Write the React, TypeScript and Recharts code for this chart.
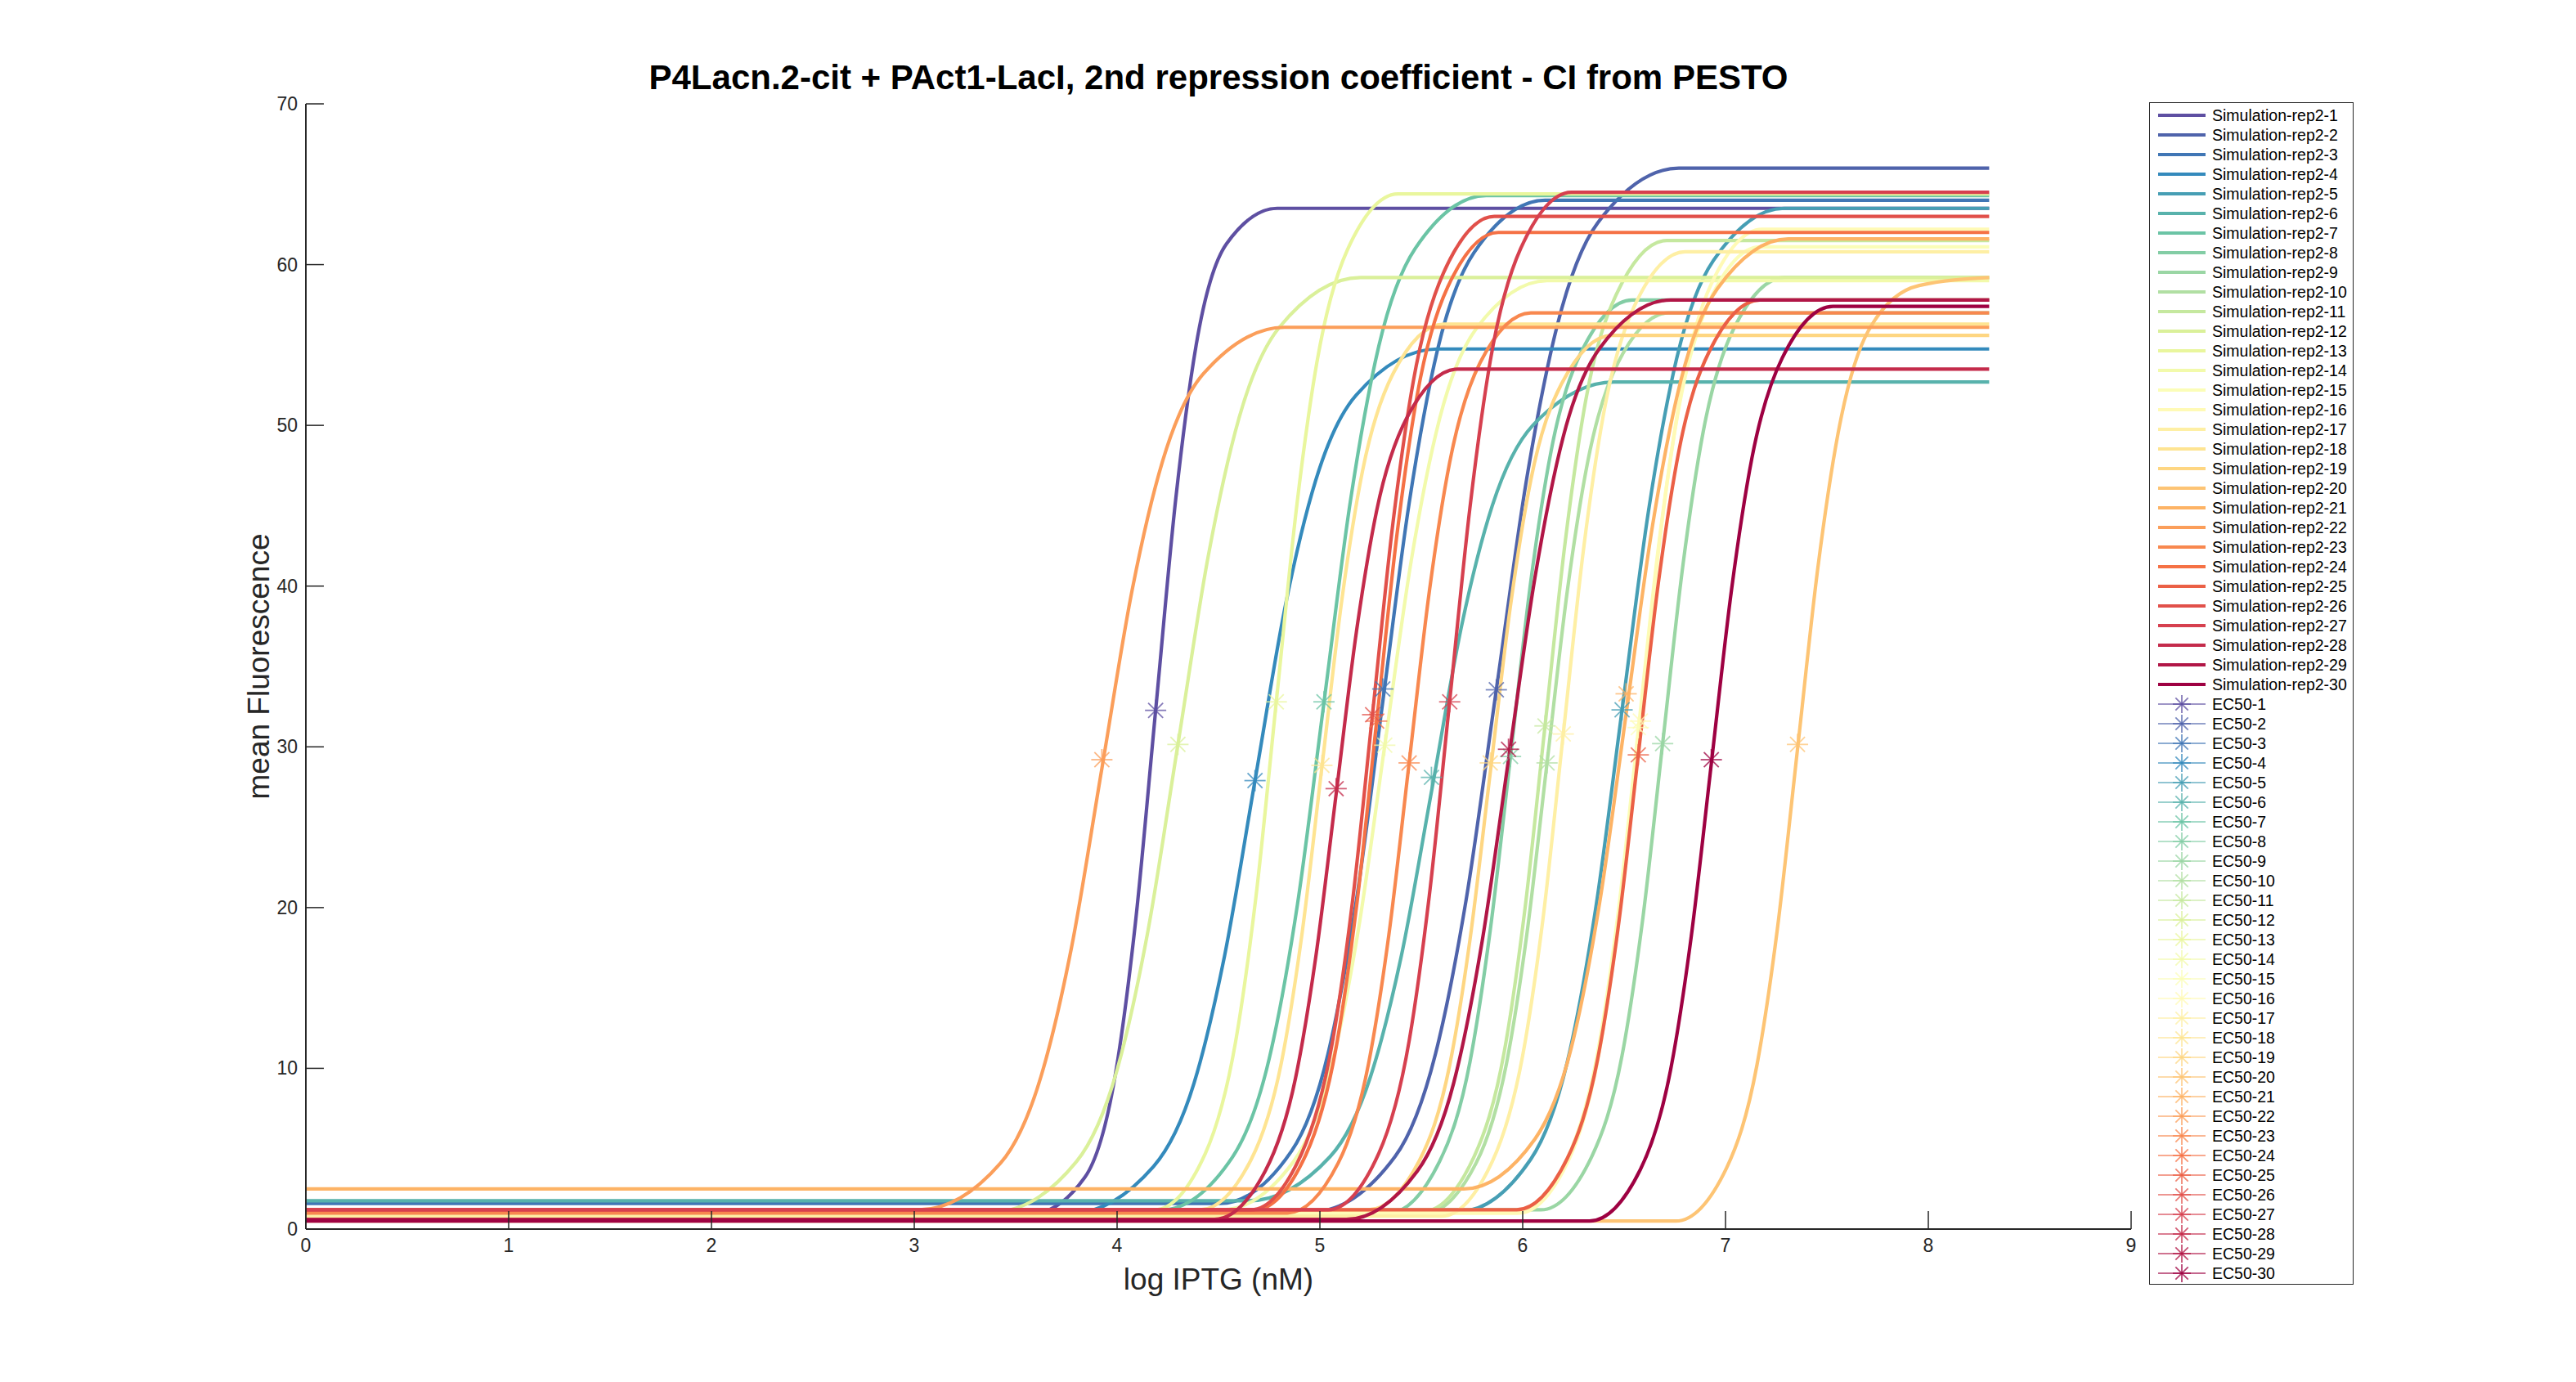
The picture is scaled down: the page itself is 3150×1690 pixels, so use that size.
import React from 'react';
import { ComposedChart, Line, Scatter, XAxis, YAxis } from 'recharts';

type Pt = [number, number];

const xTicks = [0, 1, 2, 3, 4, 5, 6, 7, 8, 9];
const yTicks = [0, 10, 20, 30, 40, 50, 60, 70];

// simulated dose-response curves: [log IPTG, mean fluorescence]
const rep1: Pt[] = [[0, 1.0], [3.59, 1.0], [3.84, 3.2], [3.99, 9.5], [4.09, 19.0], [4.19, 32.25], [4.29, 45.5], [4.39, 55.0], [4.54, 61.3], [4.79, 63.5], [8.3, 63.5]];
const rep2: Pt[] = [[0, 1.1], [4.97, 1.1], [5.37, 4.5], [5.57, 10.9], [5.72, 20.4], [5.87, 33.55], [6.02, 46.7], [6.17, 56.2], [6.37, 62.6], [6.77, 66.0], [8.3, 66.0]];
const rep3: Pt[] = [[0, 1.6], [4.51, 1.6], [4.86, 4.85], [5.04, 10.9], [5.18, 20.45], [5.31, 32.8], [5.44, 45.15], [5.58, 54.7], [5.76, 60.75], [6.11, 64.0], [8.3, 64.0]];
const rep4: Pt[] = [[0, 1.0], [3.78, 1.0], [4.18, 3.9], [4.38, 9.1], [4.53, 17.0], [4.68, 27.9], [4.83, 38.8], [4.98, 46.6], [5.18, 51.9], [5.58, 54.75], [8.3, 54.75]];
const rep5: Pt[] = [[0, 1.1], [5.69, 1.1], [6.04, 4.35], [6.22, 10.4], [6.36, 19.95], [6.49, 32.3], [6.62, 44.65], [6.76, 54.2], [6.94, 60.25], [7.29, 63.5], [8.3, 63.5]];
const rep6: Pt[] = [[0, 1.76], [4.65, 1.76], [5.05, 4.5], [5.25, 9.5], [5.4, 16.9], [5.55, 27.2], [5.7, 37.6], [5.85, 45.0], [6.05, 50.0], [6.45, 52.7], [8.3, 52.7]];
const rep7: Pt[] = [[0, 1.2], [4.22, 1.2], [4.57, 4.5], [4.75, 10.6], [4.89, 20.25], [5.02, 32.75], [5.15, 45.25], [5.29, 54.9], [5.47, 61.0], [5.82, 64.3], [8.3, 64.3]];
const rep8: Pt[] = [[0, 1.0], [5.34, 1.0], [5.59, 4.2], [5.74, 10.4], [5.84, 18.6], [5.94, 29.4], [6.04, 40.3], [6.14, 48.4], [6.29, 54.6], [6.54, 57.8], [8.3, 57.8]];
const rep9: Pt[] = [[0, 1.2], [6.09, 1.2], [6.34, 4.5], [6.49, 10.8], [6.59, 19.1], [6.69, 30.2], [6.79, 41.3], [6.89, 49.6], [7.04, 56.0], [7.29, 59.2], [8.3, 59.2]];
const rep10: Pt[] = [[0, 1.0], [5.52, 1.0], [5.77, 4.1], [5.92, 10.3], [6.02, 18.3], [6.12, 29.0], [6.22, 39.7], [6.32, 47.7], [6.47, 53.9], [6.72, 57.0], [8.3, 57.0]];
const rep11: Pt[] = [[0, 1.1], [5.51, 1.1], [5.76, 4.5], [5.91, 11.1], [6.01, 19.8], [6.11, 31.3], [6.21, 42.8], [6.31, 51.5], [6.46, 58.1], [6.71, 61.5], [8.3, 61.5]];
const rep12: Pt[] = [[0, 1.1], [3.4, 1.1], [3.8, 4.2], [4.0, 9.9], [4.15, 18.4], [4.3, 30.15], [4.45, 41.9], [4.6, 50.4], [4.8, 56.1], [5.2, 59.2], [8.3, 59.2]];
const rep13: Pt[] = [[0, 1.2], [4.185, 1.2], [4.435, 4.7], [4.585, 11.7], [4.685, 20.7], [4.785, 32.8], [4.885, 44.9], [4.985, 53.9], [5.135, 60.9], [5.385, 64.4], [8.3, 64.4]];
const rep14: Pt[] = [[0, 1.2], [4.52, 1.2], [4.87, 4.2], [5.05, 9.8], [5.19, 18.65], [5.32, 30.1], [5.45, 41.55], [5.59, 50.4], [5.77, 56.0], [6.12, 59.0], [8.3, 59.0]];
const rep15: Pt[] = [[0, 1.0], [5.97, 1.0], [6.22, 4.4], [6.37, 11.0], [6.47, 19.6], [6.57, 31.05], [6.67, 42.5], [6.77, 51.1], [6.92, 57.7], [7.17, 61.1], [8.3, 61.1]];
const rep16: Pt[] = [[0, 1.0], [5.98, 1.0], [6.23, 4.4], [6.38, 11.2], [6.48, 19.9], [6.58, 31.6], [6.68, 43.3], [6.78, 52.0], [6.93, 58.8], [7.18, 62.2], [8.3, 62.2]];
const rep17: Pt[] = [[0, 0.8], [5.6, 0.8], [5.85, 4.2], [6.0, 10.8], [6.1, 19.3], [6.2, 30.8], [6.3, 42.3], [6.4, 50.8], [6.55, 57.4], [6.8, 60.8], [8.3, 60.8]];
const rep18: Pt[] = [[0, 1.2], [4.41, 1.2], [4.66, 4.3], [4.81, 10.35], [4.91, 18.2], [5.01, 28.75], [5.11, 39.3], [5.21, 47.15], [5.36, 53.2], [5.61, 56.3], [8.3, 56.3]];
const rep19: Pt[] = [[0, 1.2], [5.24, 1.2], [5.49, 4.25], [5.64, 10.2], [5.74, 18.0], [5.84, 28.4], [5.94, 38.8], [6.04, 46.6], [6.19, 52.55], [6.44, 55.6], [8.3, 55.6]];
const rep20: Pt[] = [[0, 0.5], [6.755, 0.5], [7.005, 3.8], [7.155, 10.2], [7.255, 18.6], [7.355, 29.85], [7.455, 41.1], [7.555, 49.5], [7.705, 55.9], [7.955, 58.7], [8.3, 59.2]];
const rep21: Pt[] = [[0, 2.5], [5.71, 2.5], [6.06, 5.6], [6.24, 11.3], [6.38, 20.35], [6.51, 32.05], [6.64, 43.75], [6.78, 52.8], [6.96, 58.5], [7.31, 61.6], [8.3, 61.6]];
const rep22: Pt[] = [[0, 1.2], [3.025, 1.2], [3.425, 4.1], [3.625, 9.5], [3.775, 17.5], [3.925, 28.65], [4.075, 39.8], [4.225, 47.8], [4.425, 53.2], [4.825, 56.1], [8.3, 56.1]];
const rep23: Pt[] = [[0, 1.0], [4.84, 1.0], [5.09, 4.1], [5.24, 10.3], [5.34, 18.3], [5.44, 29.0], [5.54, 39.7], [5.64, 47.7], [5.79, 53.9], [6.04, 57.0], [8.3, 57.0]];
const rep24: Pt[] = [[0, 1.2], [4.68, 1.2], [4.93, 4.6], [5.08, 11.3], [5.18, 20.0], [5.28, 31.6], [5.38, 43.2], [5.48, 51.9], [5.63, 58.6], [5.88, 62.0], [8.3, 62.0]];
const rep25: Pt[] = [[0, 1.2], [5.97, 1.2], [6.22, 4.4], [6.37, 10.6], [6.47, 18.7], [6.57, 29.5], [6.67, 40.3], [6.77, 48.4], [6.92, 54.6], [7.17, 57.8], [8.3, 57.8]];
const rep26: Pt[] = [[0, 1.2], [4.66, 1.2], [4.91, 4.7], [5.06, 11.5], [5.16, 20.3], [5.26, 32.1], [5.36, 43.9], [5.46, 52.7], [5.61, 59.5], [5.86, 63.0], [8.3, 63.0]];
const rep27: Pt[] = [[0, 1.2], [5.04, 1.2], [5.29, 4.7], [5.44, 11.7], [5.54, 20.8], [5.64, 32.85], [5.74, 44.9], [5.84, 54.0], [5.99, 61.0], [6.24, 64.5], [8.3, 64.5]];
const rep28: Pt[] = [[0, 0.6], [4.48, 0.6], [4.73, 3.6], [4.88, 9.4], [4.98, 16.95], [5.08, 27.05], [5.18, 37.15], [5.28, 44.7], [5.43, 50.5], [5.68, 53.5], [8.3, 53.5]];
const rep29: Pt[] = [[0, 0.6], [5.13, 0.6], [5.48, 3.6], [5.66, 9.1], [5.8, 17.9], [5.93, 29.2], [6.06, 40.5], [6.2, 49.3], [6.38, 54.8], [6.73, 57.8], [8.3, 57.8]];
const rep30: Pt[] = [[0, 0.5], [6.33, 0.5], [6.58, 3.7], [6.73, 9.95], [6.83, 18.1], [6.93, 28.95], [7.03, 39.8], [7.13, 47.95], [7.28, 54.2], [7.53, 57.4], [8.3, 57.4]];

const simulations: Pt[][] = [
  rep1, rep2, rep3, rep4, rep5, rep6, rep7, rep8, rep9, rep10,
  rep11, rep12, rep13, rep14, rep15, rep16, rep17, rep18, rep19, rep20,
  rep21, rep22, rep23, rep24, rep25, rep26, rep27, rep28, rep29, rep30,
];

// EC50 markers (x = log IPTG, y = half response)
const ec50X = [4.19, 5.87, 5.31, 4.68, 6.49, 5.55, 5.02, 5.94, 6.69, 6.12, 6.11, 4.3, 4.785, 5.32, 6.57, 6.58, 6.2, 5.01, 5.84, 7.355, 6.51, 3.925, 5.44, 5.28, 6.57, 5.26, 5.64, 5.08, 5.93, 6.93];
const ec50Y = [32.27, 33.55, 33.6, 27.9, 32.3, 28.1, 32.8, 29.4, 30.2, 29.0, 31.3, 30.15, 32.8, 30.1, 31.2, 31.6, 30.8, 28.85, 29.0, 30.15, 33.3, 29.2, 29.0, 31.6, 29.5, 32.0, 32.8, 27.4, 29.85, 29.2];

const simNames = simulations.map((_, i) => `Simulation-rep2-${i + 1}`);
const ecNames = ec50X.map((_, i) => `EC50-${i + 1}`);

// reversed Spectral colormap
const spectral = ['#5e4fa2', '#3288bd', '#66c2a5', '#abdda4', '#e6f598', '#ffffbf', '#fee08b', '#fdae61', '#f46d43', '#d53e4f', '#9e0142'];
const hex = (c: string) => [1, 3, 5].map(k => parseInt(c.slice(k, k + 2), 16));
const colorAt = (i: number, n: number) => {
  const t = (i / (n - 1)) * (spectral.length - 1);
  const k = Math.min(Math.floor(t), spectral.length - 2);
  const f = t - k;
  const a = hex(spectral[k]);
  const b = hex(spectral[k + 1]);
  const c = a.map((v, j) => Math.round(v + (b[j] - v) * f));
  return `rgb(${c[0]},${c[1]},${c[2]})`;
};
const colors = simulations.map((_, i) => colorAt(i, simulations.length));

const AXIS = '#262626';
const FONT = '"Liberation Sans", Arial, Helvetica, sans-serif';

const Asterisk = ({ cx, cy, color, r = 13 }: any) => {
  const d = r * 0.7;
  return (
    <g stroke={color} strokeWidth={1.8} strokeOpacity={0.75}>
      <line x1={cx - r} y1={cy} x2={cx + r} y2={cy} />
      <line x1={cx} y1={cy - r} x2={cx} y2={cy + r} />
      <line x1={cx - d} y1={cy - d} x2={cx + d} y2={cy + d} />
      <line x1={cx - d} y1={cy + d} x2={cx + d} y2={cy - d} />
    </g>
  );
};

// MATLAB style ticks: pointing into the axes
const XTick = ({ x, y, payload }: any) => (
  <g>
    <line x1={x} y1={y - 10} x2={x} y2={y - 32} stroke={AXIS} strokeWidth={1.5} />
    <text x={x} y={y} dy="0.78em" textAnchor="middle" fill={AXIS} fontSize={23} fontFamily={FONT}>
      {payload.value}
    </text>
  </g>
);

const YTick = ({ x, y, payload }: any) => (
  <g>
    <line x1={x + 10} y1={y} x2={x + 32} y2={y} stroke={AXIS} strokeWidth={1.5} />
    <text x={x} y={y} dy="0.35em" textAnchor="end" fill={AXIS} fontSize={23} fontFamily={FONT}>
      {payload.value}
    </text>
  </g>
);

const LegendBox = () => (
  <div
    style={{
      position: 'absolute',
      left: 2628,
      top: 125,
      width: 250,
      height: 1446,
      border: `1.5px solid ${AXIS}`,
      boxSizing: 'border-box',
      paddingTop: 3,
      fontFamily: FONT,
      fontSize: 19.5,
      color: '#000',
      background: '#fff',
    }}
  >
    {simNames.map((name, i) => (
      <div key={name} style={{ display: 'flex', alignItems: 'center', height: 24 }}>
        <svg width={60} height={24} style={{ marginLeft: 9, marginRight: 7 }}>
          <line x1={1} y1={12} x2={59} y2={12} stroke={colors[i]} strokeWidth={4} />
        </svg>
        <span>{name}</span>
      </div>
    ))}
    {ecNames.map((name, i) => (
      <div key={name} style={{ display: 'flex', alignItems: 'center', height: 24 }}>
        <svg width={60} height={24} style={{ marginLeft: 9, marginRight: 7 }}>
          <line x1={1} y1={12} x2={59} y2={12} stroke={colors[i]} strokeWidth={1.6} strokeOpacity={0.8} />
          <Asterisk cx={30} cy={12} color={colors[i]} r={11} />
        </svg>
        <span>{name}</span>
      </div>
    ))}
  </div>
);

const App: React.FC = () => {
  return (
    <div style={{ position: 'absolute', left: 0, top: 0, width: 3150, height: 1690, background: '#fff' }}>
      <div
        style={{
          position: 'absolute',
          left: 374,
          width: 2232,
          top: 70,
          textAlign: 'center',
          fontFamily: FONT,
          fontWeight: 'bold',
          fontSize: 42,
          color: '#000',
          lineHeight: '50px',
        }}
      >
        P4Lacn.2-cit + PAct1-LacI, 2nd repression coefficient - CI from PESTO
      </div>

      <ComposedChart
        width={3150}
        height={1690}
        margin={{ top: 127, left: 314, right: 544, bottom: 147 }}
        style={{ position: 'absolute', left: 0, top: 0 }}
      >
        <XAxis
          dataKey="x"
          type="number"
          domain={[0, 9]}
          ticks={xTicks}
          allowDataOverflow
          height={40}
          tickSize={0}
          tickMargin={10}
          tickLine={false}
          axisLine={{ stroke: AXIS, strokeWidth: 2 }}
          tick={<XTick />}
          interval={0}
        />
        <YAxis
          dataKey="y"
          type="number"
          domain={[0, 70]}
          ticks={yTicks}
          allowDataOverflow
          width={60}
          tickSize={0}
          tickMargin={10}
          tickLine={false}
          axisLine={{ stroke: AXIS, strokeWidth: 2 }}
          tick={<YTick />}
          interval={0}
        />
        {simulations.map((pts, i) => (
          <Line
            key={simNames[i]}
            data={pts.map(([x, y]) => ({ x, y }))}
            dataKey="y"
            type="monotone"
            stroke={colors[i]}
            strokeWidth={4.2}
            dot={false}
            activeDot={false}
            isAnimationActive={false}
            name={simNames[i]}
          />
        ))}
        {ec50X.map((x, i) => (
          <Scatter
            key={ecNames[i]}
            data={[{ x, y: ec50Y[i] }]}
            dataKey="y"
            isAnimationActive={false}
            name={ecNames[i]}
            shape={(p: any) => <Asterisk cx={p.cx} cy={p.cy} color={colors[i]} />}
          />
        ))}
      </ComposedChart>

      <div
        style={{
          position: 'absolute',
          left: 374,
          width: 2232,
          top: 1542,
          textAlign: 'center',
          fontFamily: FONT,
          fontSize: 37,
          color: AXIS,
          lineHeight: '46px',
        }}
      >
        log IPTG (nM)
      </div>
      <div
        style={{
          position: 'absolute',
          left: 317,
          top: 815,
          transform: 'translate(-50%, -50%) rotate(-90deg)',
          whiteSpace: 'nowrap',
          fontFamily: FONT,
          fontSize: 37,
          color: AXIS,
          lineHeight: '46px',
        }}
      >
        mean Fluorescence
      </div>

      <LegendBox />
    </div>
  );
};

export default App;
